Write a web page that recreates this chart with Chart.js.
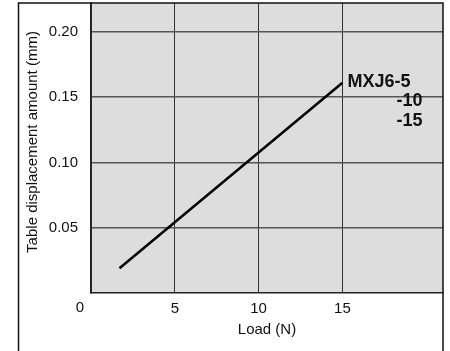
<!DOCTYPE html>
<html>
<head>
<meta charset="utf-8">
<script src="https://cdn.jsdelivr.net/npm/chart.js@4"></script>
<style>
  html, body { margin: 0; padding: 0; background: #fff; }
  #wrap { width: 450px; height: 351px; }
</style>
</head>
<body>
<div id="wrap"><canvas id="load_chart"></canvas></div>
<script>
// data
const loadN = [1.7, 15];
const displacementMm = [0.019, 0.161];
const xTicks = [0, 5, 10, 15];
const yTicks = [0.05, 0.10, 0.15, 0.20];
const seriesNames = ['MXJ6-5', '-10', '-15'];

window.onload = function(){

    const FONT = '"Liberation Sans", Arial, sans-serif';

    // серый фон области графика + рамка + подписи
    const decor = {
        id: 'decor',
        beforeDraw(chart){
            const c = chart.ctx, a = chart.chartArea;
            c.save();
            c.fillStyle = '#dddddd';
            c.fillRect(a.left, a.top, a.right - a.left, a.bottom - a.top);
            c.restore();
        },
        afterDraw(chart){
            const c = chart.ctx, a = chart.chartArea;
            const xs = chart.scales.x, ys = chart.scales.y;
            c.save();
            // outer frame (left, top, right)
            c.strokeStyle = '#111';
            c.lineWidth = 1.5;
            c.beginPath();
            c.moveTo(18.5, 351);
            c.lineTo(18.5, a.top);
            c.lineTo(a.right, a.top);
            c.lineTo(a.right, 351);
            c.stroke();

            // origin label
            c.fillStyle = '#111';
            c.font = '15px ' + FONT;
            c.textAlign = 'center';
            c.textBaseline = 'middle';
            c.fillText('0', xs.getPixelForValue(0) - 11, 308);

            // y axis title (a bit above the middle, like the original)
            c.save();
            c.translate(33, (a.top + a.bottom) / 2 - 6);
            c.rotate(-Math.PI / 2);
            c.fillText('Table displacement amount (mm)', 0, 0);
            c.restore();

            // series names at the end of the line
            const ex = xs.getPixelForValue(loadN[1]);
            const ey = ys.getPixelForValue(displacementMm[1]);
            c.font = 'bold 18px ' + FONT;
            c.textAlign = 'left';
            c.fillText(seriesNames[0], ex + 5, ey - 1);
            c.fillText(seriesNames[1], ex + 54, ey + 18);
            c.fillText(seriesNames[2], ex + 54, ey + 38);
            c.restore();
        }
    };

    const ctx = document.getElementById('load_chart');
    const myChart = new Chart(ctx, {
        type: 'line',
        data: {
            datasets: [{
                label: 'MXJ6',
                data: loadN.map(function(x, i){ return {x: x, y: displacementMm[i]}; }),
                borderColor: '#000',
                borderWidth: 2.5,
                pointRadius: 0,
                fill: false
            }]
        },
        options: {
            responsive: true,
            maintainAspectRatio: false,
            animation: false,
            layout: { padding: { left: 18, top: 3, right: 7, bottom: 0 } },
            plugins: {
                legend: { display: false },
                tooltip: { enabled: false }
            },
            scales: {
                x: {
                    type: 'linear',
                    min: 0,
                    max: 21,
                    afterBuildTicks: function(scale){
                        scale.ticks = xTicks.map(function(v){ return {value: v}; });
                    },
                    afterFit: function(scale){
                        scale.height = 58;
                        scale.paddingLeft = 0;
                        scale.paddingRight = 0;
                    },
                    grid: { color: '#333', lineWidth: 1, drawTicks: false },
                    border: { color: '#222', width: 1.5 },
                    ticks: {
                        padding: 7,
                        color: '#111',
                        font: { family: FONT, size: 15 },
                        callback: function(v){ return v === 0 ? '' : v; }
                    },
                    title: {
                        display: true,
                        text: 'Load (N)',
                        color: '#111',
                        font: { family: FONT, size: 15 },
                        padding: { top: 0, bottom: 12 }
                    }
                },
                y: {
                    min: 0,
                    max: 0.222,
                    afterBuildTicks: function(scale){
                        scale.ticks = yTicks.map(function(v){ return {value: v}; });
                    },
                    afterFit: function(scale){
                        scale.width = 73;
                        scale.paddingTop = 0;
                        scale.paddingBottom = 0;
                    },
                    grid: { color: '#555', lineWidth: 1.5, drawTicks: false },
                    border: { color: '#222', width: 1.5 },
                    ticks: {
                        padding: 13,
                        color: '#111',
                        font: { family: FONT, size: 15 },
                        callback: function(v){ return v.toFixed(2); }
                    }
                }
            }
        },
        plugins: [decor]
    });
}
</script>
</body>
</html>
